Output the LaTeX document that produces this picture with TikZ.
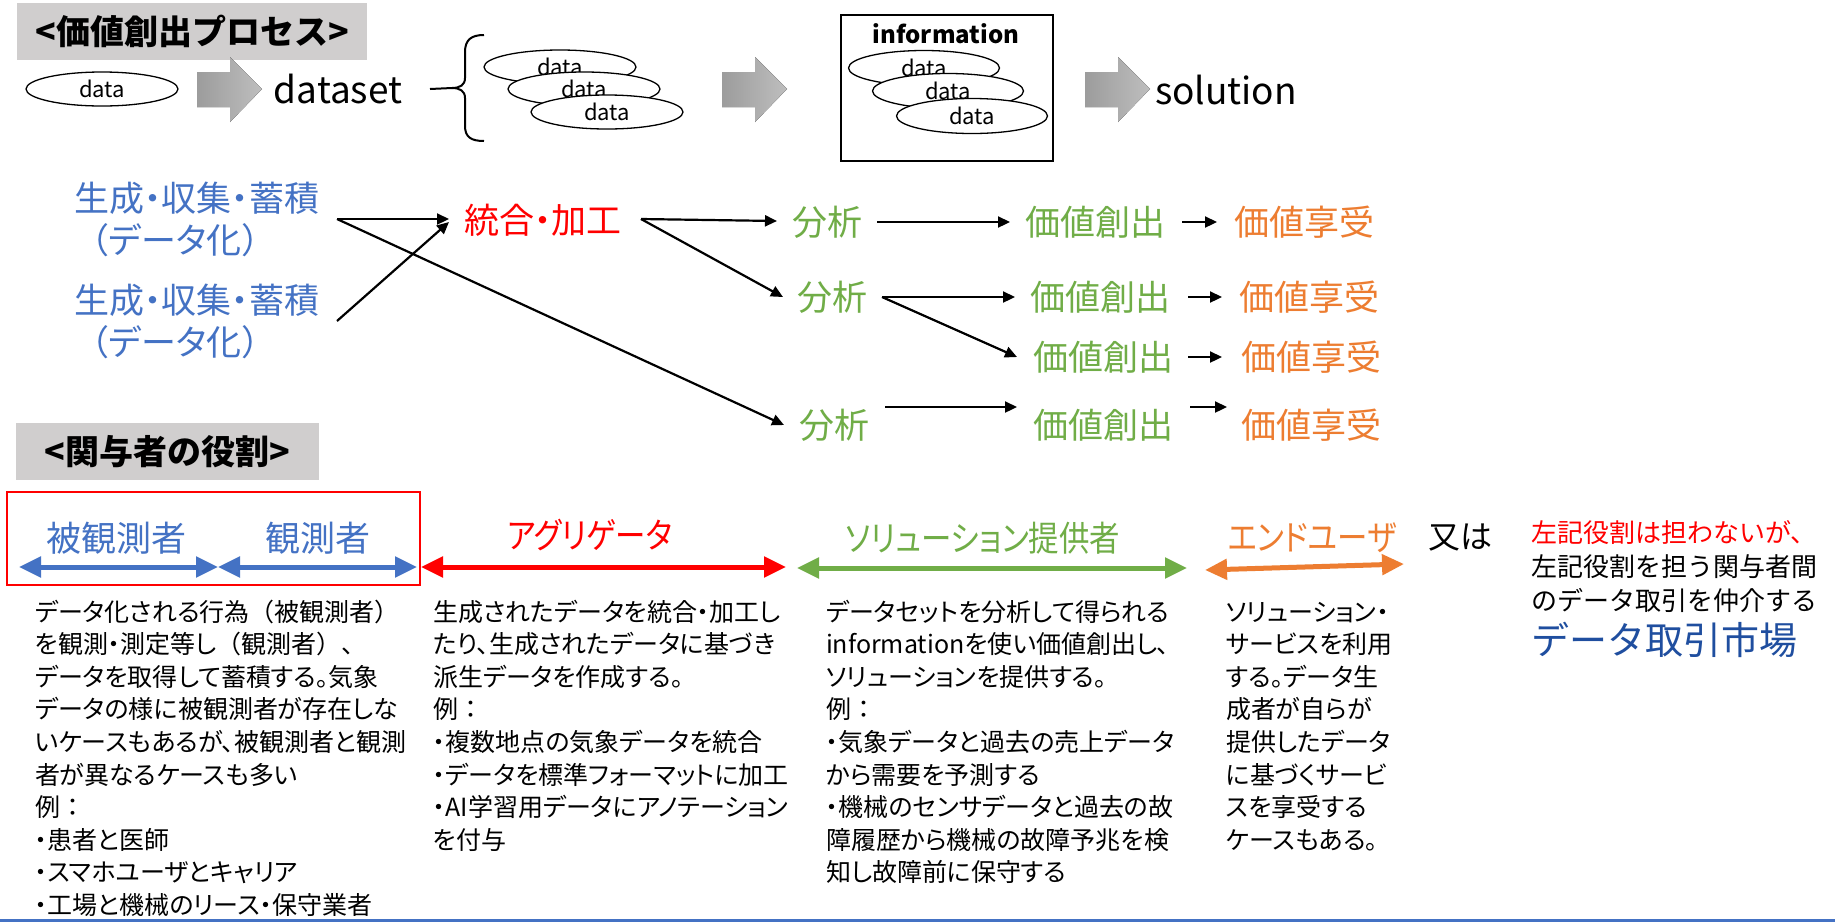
\documentclass[tikz,border=0pt]{standalone}
\usepackage{fontspec}
\setmainfont{Noto Sans CJK JP}
\newfontfamily\pfont{Noto Sans CJK JP}[RawFeature=+palt]
\newfontfamily\kfont{Noto Sans CJK JP}[RawFeature=+palt, FakeStretch=0.87]
\newfontfamily\fwfont{Noto Sans CJK JP}
\usetikzlibrary{arrows.meta,shapes.geometric,calc}
\definecolor{cblue}{HTML}{4472C4}
\definecolor{cred}{HTML}{FF0000}
\definecolor{cgreen}{HTML}{70AD47}
\definecolor{corange}{HTML}{ED7D31}
\definecolor{cnavy}{HTML}{1F4E9F}
\definecolor{ctitle}{HTML}{D0CECE}
\definecolor{carrL}{HTML}{9C9C9C}
\definecolor{carrR}{HTML}{BEBEBE}
\newcommand\myfs[1]{\fontsize{#1}{#1}\selectfont}
\tikzset{
  txt/.style={inner sep=0pt, outer sep=0pt},
  titlebox/.style={fill=ctitle, inner sep=0pt, font=\bfseries\myfs{34}},
  dataell/.style={ellipse, draw, fill=white, line width=1.3pt, minimum width=152pt, minimum height=34pt, inner sep=0pt, font=\myfs{22}},
  gen/.style={txt, align=left, text=cblue, font=\pfont\fontsize{35}{42}\selectfont, anchor=west},
  mid/.style={txt, font=\pfont\myfs{35}},
  role/.style={txt, font=\pfont\myfs{35}},
  krole/.style={txt, font=\kfont\myfs{35}},
  body/.style={txt, anchor=base west, font=\pfont\myfs{25}},
  side/.style={txt, anchor=west, font=\myfs{26}},
  conn/.style={line width=2.2pt, -{Triangle[length=12pt,width=11pt]}},
  dbl/.style={line width=5pt, {Triangle[length=22pt,width=20pt]}-{Triangle[length=22pt,width=20pt]}},
  blockarrow/.style={left color=carrL, right color=carrR, draw=none}
}
\begin{document}
\begin{tikzpicture}[x=1pt,y=-1pt]
\useasboundingbox (0,0) rectangle (1835,922);
\fill[white] (0,0) rectangle (1835,922);

% ---------- top: value creation process ----------
\node[titlebox, minimum width=350pt, minimum height=57pt] (t1) at (192,31.5) {<価値創出プロセス>};

\node[dataell] (d0) at (102,89) {data};
\fill[blockarrow] (197,72) -- (230,72) -- (230,57) -- (262,89) -- (230,122) -- (230,107) -- (197,107) -- cycle;
\node[txt, font=\myfs{37}] (ds) at (338,89) {dataset};

\coordinate (cusp) at (452,88);
\draw[line width=2pt] ($(ds.center)+(92,0)$) -- (cusp);
\draw[line width=2pt] (484,35) .. controls (471,35) and (465,40) .. (465,52) -- (465,78)
  .. controls (465,85) and (460,88) .. (cusp) .. controls (460,88) and (465,91) .. (465,98)
  -- (465,126) .. controls (465,137) and (471,141) .. (484,141);

\node[dataell] (d1) at (560,67) {data};
\node[dataell] (d2) at (584,89) {data};
\node[dataell] (d3) at (607,112) {data};

\fill[blockarrow] (722,72) -- (755,72) -- (755,57) -- (787,89) -- (755,122) -- (755,107) -- (722,107) -- cycle;

\node[draw, line width=2pt, minimum width=212pt, minimum height=146pt, anchor=north west, inner sep=0pt] (ib) at (840,14) {};
\node[txt, font=\bfseries\myfs{24}] (infot) at (946,34) {information};
\node[dataell, minimum width=151pt, minimum height=35pt] (i1) at (924,68) {data};
\node[dataell, minimum width=151pt, minimum height=35pt] (i2) at (948,91) {data};
\node[dataell, minimum width=151pt, minimum height=35pt] (i3) at (972,116) {data};

\fill[blockarrow] (1085,72) -- (1118,72) -- (1118,57) -- (1150,89) -- (1118,122) -- (1118,107) -- (1085,107) -- cycle;
\node[txt, font=\myfs{37}] (sol) at (1226,90) {solution};

% ---------- middle: flow ----------
\node[gen] (g1) at (74,219) {生成・収集・蓄積\\{\fwfont （}データ化{\fwfont ）}};
\node[gen] (g2) at (74,321) {生成・収集・蓄積\\{\fwfont （}データ化{\fwfont ）}};
\node[mid, text=cred] (mg) at (543,220) {統合・加工};

\node[mid, text=cgreen] (a1) at (827,222) {分析};
\node[mid, text=cgreen] (a2) at (832,297) {分析};
\node[mid, text=cgreen] (a3) at (834,425) {分析};

\node[mid, text=cgreen] (v1) at (1095,222) {価値創出};
\node[mid, text=cgreen] (v2) at (1100,297) {価値創出};
\node[mid, text=cgreen] (v3) at (1103,357) {価値創出};
\node[mid, text=cgreen] (v4) at (1103,425) {価値創出};

\node[mid, text=corange] (e1) at (1304,222) {価値享受};
\node[mid, text=corange] (e2) at (1309,297) {価値享受};
\node[mid, text=corange] (e3) at (1311,357) {価値享受};
\node[mid, text=corange] (e4) at (1311,425) {価値享受};

\draw[conn] ($(g1.west)+(263,0)$) -- ($(mg.center)+(-94,-1)$);
\draw[conn] ($(g2.west)+(263,0)$) -- ($(mg.center)+(-94,2)$);
\draw[conn] ($(g1.west)+(263,0)$) -- ($(a3.center)+(-50,0)$);
\draw[conn] ($(mg.center)+(98,-1)$) -- ($(a1.center)+(-50,-1)$);
\draw[conn] ($(mg.center)+(98,-1)$) -- ($(a2.center)+(-49,0)$);
\draw[conn] ($(a1.center)+(50,0)$) -- ($(v1.center)+(-85,0)$);
\draw[conn] ($(a2.center)+(50,0)$) -- ($(v2.center)+(-85,0)$);
\draw[conn] ($(a2.center)+(50,0)$) -- ($(v3.center)+(-86,0)$);
\draw[conn] ($(a3.center)+(51,-18)$) -- ($(v4.center)+(-86,-18)$);
\draw[conn] ($(v1.center)+(87,0)$) -- ($(e1.center)+(-87,0)$);
\draw[conn] ($(v2.center)+(88,0)$) -- ($(e2.center)+(-87,0)$);
\draw[conn] ($(v3.center)+(85,0)$) -- ($(e3.center)+(-89,0)$);
\draw[conn] ($(v4.center)+(87,-18)$) -- ($(e4.center)+(-84,-18)$);

% ---------- bottom: roles ----------
\node[titlebox, minimum width=303pt, minimum height=57pt] (t2) at (167.5,451.5) {<関与者の役割>};

\node[draw=cred, line width=2pt, minimum width=413pt, minimum height=93pt, anchor=north west, inner sep=0pt] (rbox) at (6,491) {};

\node[role, text=cblue] (r1) at (116,538) {被観測者};
\node[role, text=cblue] (r2) at (318,538) {観測者};
\node[krole, text=cred] (r3) at (590,535) {アグリゲータ};
\node[krole, text=cgreen] (r4) at (983,538) {ソリューション提供者};
\node[krole, text=corange] (r5) at (1312,538) {エンドユーザ};
\node[txt, font=\myfs{32}] (r6) at (1460,537) {又は};

\coordinate (p1) at (19,567);
\coordinate (p2) at (218,567);
\coordinate (p3) at (417,567);
\coordinate (p4) at (421,567);
\coordinate (p5) at (786,567);
\coordinate (p6) at (797,568);
\coordinate (p7) at (1187,568);
\coordinate (p8) at (1205,570);
\coordinate (p9) at (1404,564);
\draw[dbl, cblue] (p1) -- (p2);
\draw[dbl, cblue] (p2) -- (p3);
\draw[dbl, cred] (p4) -- (p5);
\draw[dbl, cgreen] (p6) -- (p7);
\draw[dbl, corange] (p8) -- (p9);

\foreach \lin [count=\i] in {{データ化される行為{\fwfont （}被観測者{\fwfont ）}},{を観測・測定等し{\fwfont （}観測者{\fwfont ）、}},{データを取得して蓄積する。気象},{データの様に被観測者が存在しな},{いケースもあるが、被観測者と観測},{者が異なるケースも多い},{例{\fwfont ：}},{・患者と医師},{・スマホユーザとキャリア},{・工場と機械のリース・保守業者}}
  \node[body] (bA\i) at (35,{621+32.6*(\i-1)}) {\lin};

\foreach \lin [count=\i] in {{生成されたデータを統合・加工し},{たり、生成されたデータに基づき},{派生データを作成する。},{例{\fwfont ：}},{・複数地点の気象データを統合},{・データを標準フォーマットに加工},{・AI学習用データにアノテーション},{を付与}}
  \node[body] (bB\i) at (433,{621+32.6*(\i-1)}) {\lin};

\foreach \lin [count=\i] in {{データセットを分析して得られる},{informationを使い価値創出し、},{ソリューションを提供する。},{例{\fwfont ：}},{・気象データと過去の売上データ},{から需要を予測する},{・機械のセンサデータと過去の故},{障履歴から機械の故障予兆を検},{知し故障前に保守する}}
  \node[body] (bC\i) at (826,{621+32.6*(\i-1)}) {\lin};

\foreach \lin [count=\i] in {{ソリューション・},{サービスを利用},{する。データ生},{成者が自らが},{提供したデータ},{に基づくサービ},{スを享受する},{ケースもある。}}
  \node[body] (bD\i) at (1226,{621+32.6*(\i-1)}) {\lin};

\node[side, text=cred] (m1) at (1531,533) {左記役割は担わないが、};
\node[side] (m2) at (1531,567) {左記役割を担う関与者間};
\node[side] (m3) at (1531,600) {のデータ取引を仲介する};
\node[txt, anchor=west, font=\myfs{38}, text=cnavy] (m4) at (1531,640) {データ取引市場};

\draw[cblue, line width=3pt] (0,920.5) -- (1835,920.5);
\end{tikzpicture}
\end{document}
